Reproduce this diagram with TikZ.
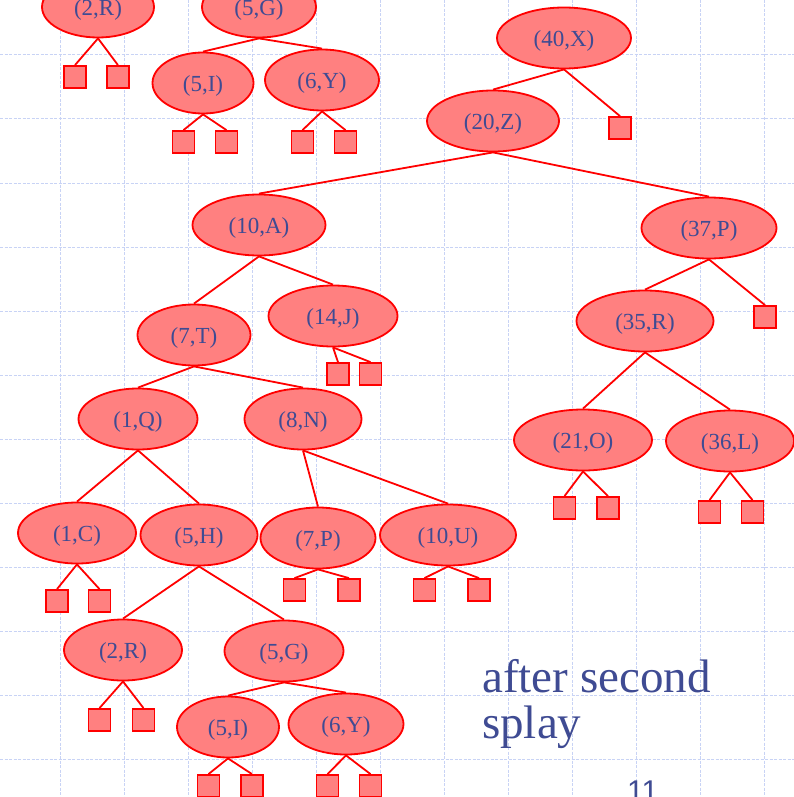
\documentclass[tikz,border=0pt]{standalone}
\usepackage{fontspec}
\setmainfont{Liberation Serif}
\newfontfamily\numfont{Liberation Sans}
\usetikzlibrary{shapes.geometric}
\definecolor{nfill}{HTML}{FF8080}
\definecolor{nline}{HTML}{FF0000}
\definecolor{ntext}{HTML}{3F4B93}
\definecolor{gridc}{HTML}{C8D3F5}
\begin{document}
\begin{tikzpicture}[x=1pt,y=-1pt,
 kn/.style={ellipse, draw=nline, fill=nfill, line width=1.8pt, minimum height=61pt, inner sep=0pt, text=ntext, font=\fontsize{23}{23}\selectfont,
   execute at begin node={\setbox0=\hbox\bgroup}, execute at end node={\egroup\raisebox{-8.5pt}[0pt][0pt]{\box0}}},
 lf/.style={rectangle, draw=nline, fill=nfill, line width=1.8pt, minimum size=22pt, inner sep=0pt},
 ed/.style={draw=nline, line width=1.8pt},
 gl/.style={draw=gridc, line width=1pt, dash pattern=on 3pt off 1.5pt}]
\useasboundingbox (0,0) rectangle (794,797);
\fill[white] (0,0) rectangle (794,797);
% grid
\foreach \k in {0,...,11} {
  \draw[gl] ({60+64*\k},0) -- ({60+64*\k},797);
  \draw[gl] (0,{55+64*\k}) -- (794,{55+64*\k});
}
% internal nodes
\node[kn, minimum width=112pt] (R2a) at (98,7) {(2,R)};
\node[kn, minimum width=114pt] (G5a) at (259,7) {(5,G)};
\node[kn, minimum width=101pt] (I5a) at (203,83) {(5,I)};
\node[kn, minimum width=114pt] (Y6a) at (322,80) {(6,Y)};
\node[kn, minimum width=134pt] (X40) at (564,38) {(40,X)};
\node[kn, minimum width=132pt] (Z20) at (493,121) {(20,Z)};
\node[kn, minimum width=133pt] (A10) at (259,225) {(10,A)};
\node[kn, minimum width=129pt] (J14) at (333,316) {(14,J)};
\node[kn, minimum width=113pt] (T7) at (194,335) {(7,T)};
\node[kn, minimum width=135pt] (P37) at (709,228) {(37,P)};
\node[kn, minimum width=137pt] (R35) at (645,321) {(35,R)};
\node[kn, minimum width=119pt] (Q1) at (138,419) {(1,Q)};
\node[kn, minimum width=117pt] (N8) at (303,419) {(8,N)};
\node[kn, minimum width=118pt] (C1) at (77,533) {(1,C)};
\node[kn, minimum width=117pt] (H5) at (199,535) {(5,H)};
\node[kn, minimum width=115pt] (P7) at (318,538) {(7,P)};
\node[kn, minimum width=136pt] (U10) at (448,535) {(10,U)};
\node[kn, minimum width=138pt] (O21) at (583,440) {(21,O)};
\node[kn, minimum width=128pt] (L36) at (730,441) {(36,L)};
\node[kn, minimum width=118pt] (R2b) at (123,650) {(2,R)};
\node[kn, minimum width=119pt] (G5b) at (284,651) {(5,G)};
\node[kn, minimum width=102pt] (I5b) at (228,727) {(5,I)};
\node[kn, minimum width=115pt] (Y6b) at (346,724) {(6,Y)};
% leaves
\node[lf] (a1) at (75,77) {};
\node[lf] (a2) at (118,77) {};
\node[lf] (a3) at (183.5,142) {};
\node[lf] (a4) at (226.5,142) {};
\node[lf] (a5) at (302.5,142) {};
\node[lf] (a6) at (345.5,142) {};
\node[lf] (a7) at (620,128) {};
\node[lf] (a8) at (338,374) {};
\node[lf] (a9) at (370.5,374) {};
\node[lf] (a10) at (765,317) {};
\node[lf] (a11) at (57,601) {};
\node[lf] (a12) at (99.5,601) {};
\node[lf] (a13) at (294.5,590) {};
\node[lf] (a14) at (349,590) {};
\node[lf] (a15) at (424.5,590) {};
\node[lf] (a16) at (479,590) {};
\node[lf] (a17) at (564.5,508) {};
\node[lf] (a18) at (608,508) {};
\node[lf] (a19) at (709.5,512) {};
\node[lf] (a20) at (752.5,512) {};
\node[lf] (a21) at (99.5,720) {};
\node[lf] (a22) at (143.5,720) {};
\node[lf] (a23) at (208.5,786) {};
\node[lf] (a24) at (252,786) {};
\node[lf] (a25) at (327.5,786) {};
\node[lf] (a26) at (370.5,786) {};
% edges
\foreach \p/\c in {R2a/a1,R2a/a2,G5a/I5a,G5a/Y6a,I5a/a3,I5a/a4,Y6a/a5,Y6a/a6,
  X40/Z20,X40/a7,Z20/A10,Z20/P37,A10/T7,A10/J14,J14/a8,J14/a9,T7/Q1,T7/N8,
  P37/R35,P37/a10,R35/O21,R35/L36,Q1/C1,Q1/H5,N8/P7,N8/U10,C1/a11,C1/a12,
  P7/a13,P7/a14,U10/a15,U10/a16,O21/a17,O21/a18,L36/a19,L36/a20,H5/R2b,H5/G5b,
  R2b/a21,R2b/a22,G5b/I5b,G5b/Y6b,I5b/a23,I5b/a24,Y6b/a25,Y6b/a26}
  \draw[ed] (\p.south) -- (\c.north);
% caption
\node[anchor=base west, inner sep=0pt, text=ntext, font=\fontsize{47}{47}\selectfont] (t1) at (482,692) {after second};
\node[anchor=base west, inner sep=0pt, text=ntext, font=\fontsize{47}{47}\selectfont] (t2) at (482,738) {splay};
\node[anchor=base west, inner sep=0pt, text=ntext, font=\numfont\fontsize{30}{30}\selectfont] (pg) at (627,801) {11};
\end{tikzpicture}
\end{document}
